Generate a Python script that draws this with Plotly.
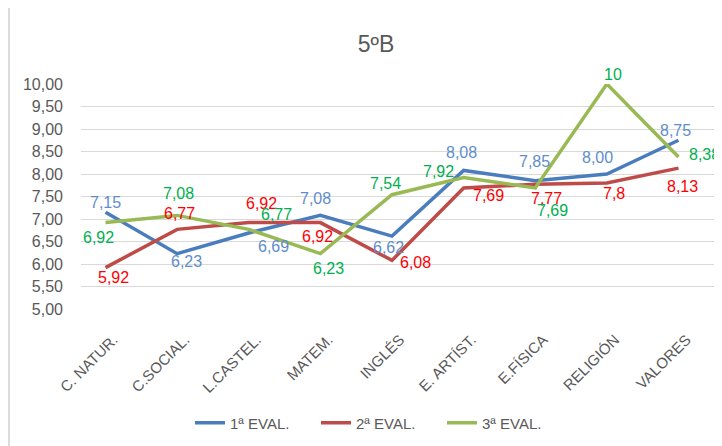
import plotly.graph_objects as go

categories = ["C. NATUR.", "C.SOCIAL.", "L.CASTEL.", "MATEM.", "INGLÉS",
              "E. ARTÍST.", "E.FÍSICA", "RELIGIÓN", "VALORES"]
eval1 = [7.15, 6.23, 6.69, 7.08, 6.62, 8.08, 7.85, 8.00, 8.75]
eval2 = [5.92, 6.77, 6.92, 6.92, 6.08, 7.69, 7.77, 7.8, 8.13]
eval3 = [6.92, 7.08, 6.77, 6.23, 7.54, 7.92, 7.69, 10, 8.38]
labels1 = ["7,15", "6,23", "6,69", "7,08", "6,62", "8,08", "7,85", "8,00", "8,75"]
labels2 = ["5,92", "6,77", "6,92", "6,92", "6,08", "7,69", "7,77", "7,8", "8,13"]
labels3 = ["6,92", "7,08", "6,77", "6,23", "7,54", "7,92", "7,69", "10", "8,38"]
series_names = ["1ª EVAL.", "2ª EVAL.", "3ª EVAL."]
y_ticks = [5 + 0.5 * i for i in range(11)]
y_tick_labels = [f"{v:.2f}".replace(".", ",") for v in y_ticks]

# label pixel offsets (dx right, dy down) relative to each point
off1 = [(0, -10), (9, 8), (25, 14), (-5, -17), (-4, 11), (-2, -18), (-1, -19), (-9, -17), (-3, -10)]
off2 = [(8, 10), (2, -16), (13, -19), (-3, 14), (23, 2), (25, 8), (11, 14), (7, 10), (4, 18)]
off3 = [(-7, 15), (1, -22), (28, -15), (8, 15), (-7, -11), (-25, -6), (17, 23), (6, -10), (26, -2)]

line_colors = ["#4A7DBE", "#BE4B48", "#98B954"]
label_colors = ["#5F8DCB", "#FF0000", "#00B050"]
FONT = "Liberation Sans"
GREY = "#595959"

# page body has an 8px margin, so the figure is 8px smaller and all positions shifted
W, H = 714, 438
L, T, B = 73, 76, 137
PW, PH = W - L, H - T - B

fig = go.Figure()
for vals, name, col in zip([eval1, eval2, eval3], series_names, line_colors):
    fig.add_trace(go.Scatter(x=categories, y=vals, mode="lines", name=name,
                             line=dict(color=col, width=3.5)))

annotations = []
for vals, labs, offs, col in zip([eval1, eval2, eval3], [labels1, labels2, labels3],
                                 [off1, off2, off3], label_colors):
    for c, v, t, (dx, dy) in zip(categories, vals, labs, offs):
        annotations.append(dict(x=c, y=v, xref="x", yref="y", text=t, showarrow=False,
                                xshift=dx, yshift=-dy,
                                font=dict(family=FONT, size=16, color=col)))

fig.update_layout(
    width=W, height=H,
    margin=dict(l=L, r=0, t=T, b=B),
    paper_bgcolor="white", plot_bgcolor="white",
    title=dict(text="5ºB", x=368 / W, xanchor="center", xref="container",
               y=1 - 36 / H, yanchor="middle", yref="container",
               font=dict(family=FONT, size=23, color=GREY)),
    showlegend=True,
    legend=dict(orientation="h", x=(182 - L) / PW, xanchor="left",
                y=(T + PH - 415) / PH, yanchor="middle",
                entrywidth=81, entrywidthmode="pixels",
                font=dict(family=FONT, size=15, color=GREY)),
    annotations=annotations,
    shapes=[dict(type="line", xref="paper", yref="paper",
                 x0=(1 - L) / PW, x1=(1 - L) / PW, y0=(T + PH - H) / PH, y1=(T + PH) / PH,
                 line=dict(color="#D0D0D0", width=1.5))],
)
fig.update_xaxes(tickangle=-45, showgrid=False, showline=False, ticks="", automargin=False,
                 ticklabelstandoff=18, ticklabelshift=8,
                 tickfont=dict(family=FONT, size=15, color=GREY))
fig.update_yaxes(range=[5, 10], tickvals=y_ticks, ticktext=y_tick_labels, automargin=False,
                 showgrid=True, gridcolor="#D9D9D9", gridwidth=1, zeroline=False,
                 showline=False, ticks="", ticklabelstandoff=17,
                 tickfont=dict(family=FONT, size=16, color=GREY))

fig.write_html("out.html")
